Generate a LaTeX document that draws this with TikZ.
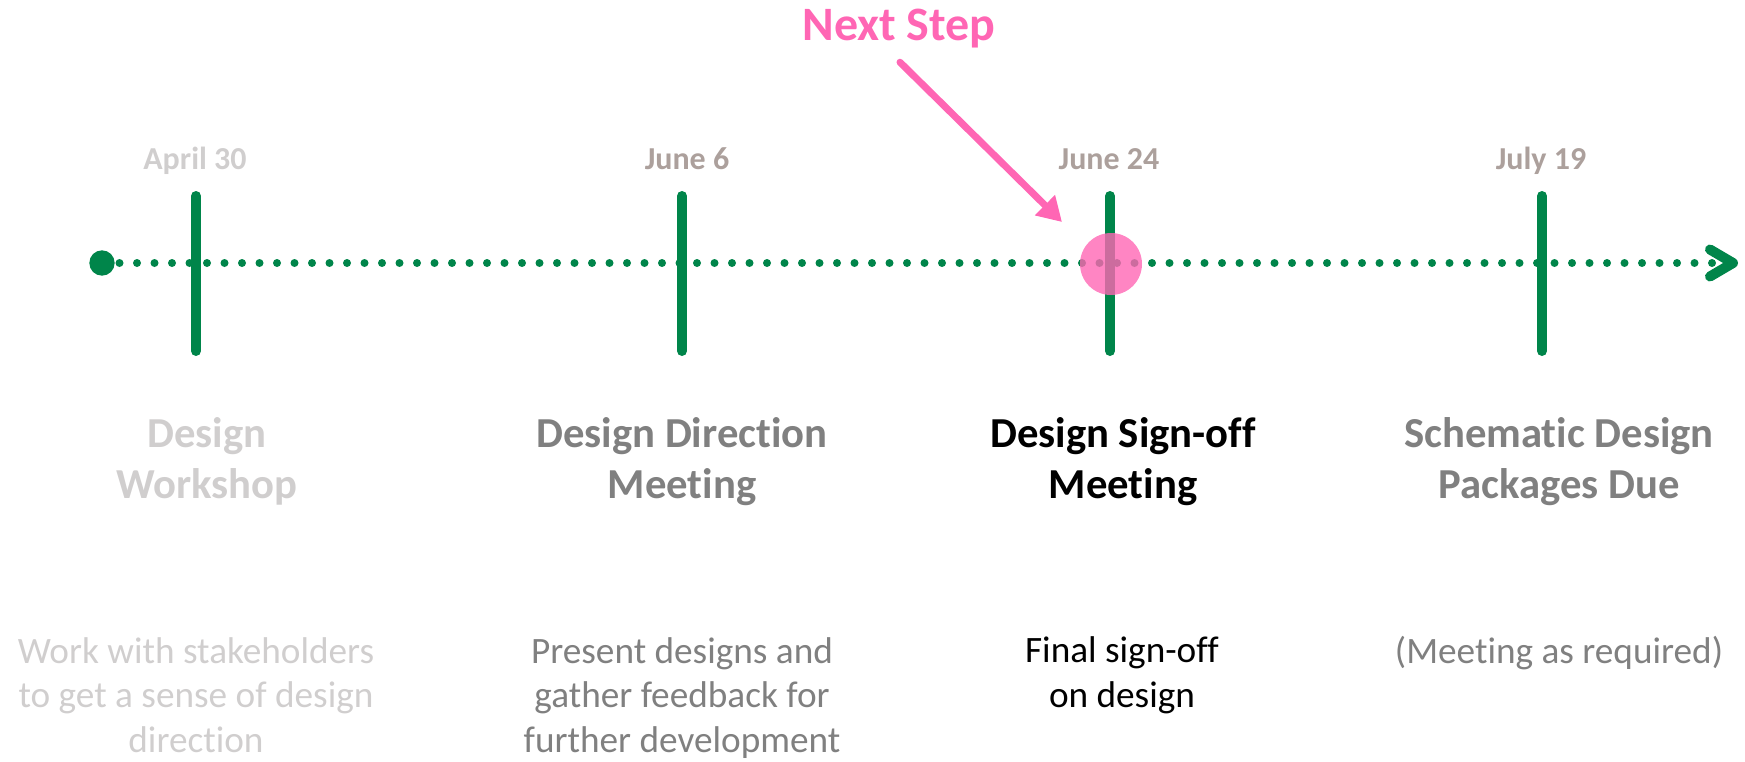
\documentclass[tikz,border=0pt]{standalone}
\usepackage{fontspec}
\setmainfont{Carlito}[Ligatures=NoCommon]
\usetikzlibrary{arrows.meta,positioning}

\definecolor{tlgreen}{RGB}{0,133,74}
\definecolor{tlpink}{RGB}{255,102,180}
\definecolor{dimgray}{RGB}{208,206,206}
\definecolor{midgray}{RGB}{128,128,128}
\definecolor{dategray}{RGB}{172,160,156}

\tikzset{
  milestone/.style={draw=tlgreen, line width=0.1cm, line cap=round},
  datelbl/.style={font=\bfseries\fontsize{9.1pt}{10pt}\selectfont, anchor=base, inner sep=0pt},
  titlelbl/.style={font=\bfseries\fontsize{12.15pt}{14.5pt}\selectfont, align=center, anchor=base, inner sep=0pt},
  desclbl/.style={font=\fontsize{10.6pt}{12.65pt}\selectfont, align=center, anchor=base, inner sep=0pt},
}

\begin{document}
\begin{tikzpicture}
\useasboundingbox (0,0) rectangle (17.45,-7.62);

% Timeline axis
\node[circle, fill=tlgreen, minimum size=0.254cm, inner sep=0pt] (start) at (1.02,-2.63) {};
\coordinate (end) at (17.38,-2.63);
\draw[tlgreen, line width=0.08cm, line cap=round, dash pattern=on 0pt off 0.175cm,
  -{Straight Barb[length=0.23cm, width=0.27cm, line width=0.1cm, round]}] (start.center) -- (end);

% Milestones
\foreach \x/\n in {1.96/apr,6.82/junsix,11.10/junlate,15.42/jul} {
  \coordinate (\n top) at (\x,-1.96);
  \coordinate (\n bot) at (\x,-3.51);
  \draw[milestone] (\n top) -- (\n bot);
}

% Current step
\node[circle, fill=tlpink, opacity=0.8, minimum size=0.62cm, inner sep=0pt] (now) at (11.11,-2.64) {};

% Dates
\node[datelbl, text=dimgray] (dapr) at (1.95,-1.70) {April 30};
\node[datelbl, text=dategray] (djunsix) at (6.87,-1.70) {June 6};
\node[datelbl, text=dategray] (djunlate) at (11.09,-1.70) {June 24};
\node[datelbl, text=dategray] (djul) at (15.41,-1.70) {July 19};

% Titles (base = last line)
\node[titlelbl, text=dimgray] (tapr) at (2.07,-4.98) {Design\\Workshop};
\node[titlelbl, text=midgray] (tjunsix) at (6.82,-4.98) {Design Direction\\Meeting};
\node[titlelbl, text=black] (tjunlate) at (11.23,-4.98) {Design Sign-off\\Meeting};
\node[titlelbl, text=midgray] (tjul) at (15.59,-4.98) {Schematic Design\\Packages Due};

% Descriptions (base = last line)
\node[desclbl, text=dimgray] (xapr) at (1.96,-7.52) {Work with stakeholders\\to get a sense of design\\direction};
\node[desclbl, text=midgray] (xjunsix) at (6.82,-7.52) {Present designs and\\gather feedback for\\further development};
\node[desclbl, text=black] (xjunlate) at (11.22,-7.07) {Final sign-off\\on design};
\node[desclbl, text=midgray] (xjul) at (15.59,-6.63) {(Meeting as required)};

% Next step pointer
\node[font=\bfseries\fontsize{13.65pt}{15pt}\selectfont, text=tlpink, anchor=base, inner sep=0pt] (next) at (8.99,-0.41) {Next Step};
\coordinate (pointer) at (10.62,-2.22);
\draw[tlpink, line width=0.07cm, line cap=round, -{Triangle[length=0.24cm, width=0.27cm]}]
  ([xshift=0.01cm, yshift=-0.13cm]next.south) -- (pointer);
\end{tikzpicture}
\end{document}
